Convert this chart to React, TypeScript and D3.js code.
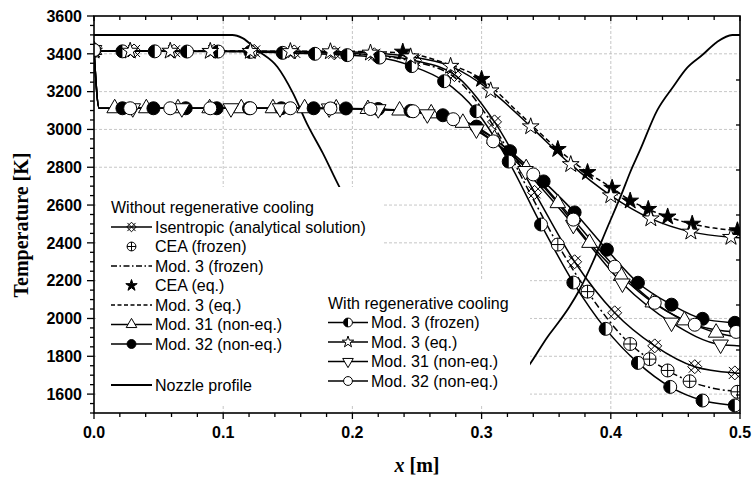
import React, { useEffect, useRef } from "react";
import * as d3 from "d3";

// ---- data ----
// Without regenerative cooling
const isenX = [0, 0.031, 0.062, 0.093, 0.124, 0.155, 0.186, 0.217, 0.248, 0.279, 0.31, 0.341, 0.372, 0.403, 0.434, 0.465, 0.496, 0.5];
const isenT = [3415, 3415, 3414, 3414, 3413, 3410, 3405, 3395, 3365, 3290, 3040, 2667, 2300, 2030, 1855, 1745, 1712, 1710];

const ceaFrozenX = [0.359, 0.382, 0.415, 0.43, 0.444, 0.461, 0.498];
const ceaFrozenT = [2391, 2142, 1865, 1785, 1725, 1668, 1612];

const mod3FrozenX = [0, 0.15, 0.2, 0.25, 0.28, 0.31, 0.34, 0.359, 0.382, 0.415, 0.43, 0.444, 0.461, 0.48, 0.5];
const mod3FrozenT = [3415, 3410, 3400, 3355, 3270, 3010, 2630, 2391, 2142, 1865, 1785, 1725, 1668, 1630, 1612];

const ceaEqX = [0.239, 0.3, 0.359, 0.382, 0.401, 0.415, 0.429, 0.444, 0.463, 0.498];
const ceaEqT = [3410, 3266, 2895, 2773, 2690, 2622, 2578, 2538, 2500, 2465];

const mod3EqX = [0, 0.2, 0.239, 0.27, 0.3, 0.33, 0.359, 0.382, 0.401, 0.415, 0.429, 0.444, 0.463, 0.48, 0.5];
const mod3EqT = [3415, 3413, 3405, 3355, 3266, 3080, 2895, 2773, 2690, 2625, 2578, 2538, 2500, 2478, 2465];

const mod31X = [0, 0.004, 0.016, 0.0405, 0.065, 0.0895, 0.114, 0.1385, 0.163, 0.1875, 0.212, 0.2365, 0.261, 0.2855, 0.31, 0.3345, 0.359, 0.3835, 0.408, 0.4325, 0.457, 0.4815, 0.5];
const mod31T = [3420, 3112, 3112, 3112, 3112, 3112, 3112, 3112, 3112, 3111, 3108, 3100, 3085, 3035, 2950, 2795, 2610, 2400, 2225, 2085, 1990, 1925, 1900];

const mod32X = [0, 0.004, 0.022, 0.046, 0.071, 0.095, 0.12, 0.145, 0.17, 0.195, 0.22, 0.245, 0.27, 0.296, 0.322, 0.348, 0.372, 0.397, 0.421, 0.447, 0.471, 0.496, 0.5];
const mod32T = [3420, 3112, 3112, 3112, 3112, 3112, 3112, 3112, 3112, 3111, 3108, 3098, 3075, 3015, 2885, 2725, 2561, 2364, 2189, 2073, 1998, 1977, 1975];

// With regenerative cooling
const rcFrozenX = [0, 0.022, 0.047, 0.072, 0.096, 0.121, 0.146, 0.171, 0.196, 0.221, 0.246, 0.271, 0.296, 0.321, 0.346, 0.371, 0.396, 0.421, 0.446, 0.471, 0.496, 0.5];
const rcFrozenT = [3415, 3413, 3413, 3412, 3412, 3410, 3405, 3400, 3393, 3380, 3335, 3255, 3096, 2830, 2497, 2190, 1945, 1765, 1638, 1566, 1540, 1537];

const rcEqX = [0, 0.028, 0.059, 0.09, 0.121, 0.152, 0.183, 0.214, 0.245, 0.276, 0.307, 0.338, 0.369, 0.4, 0.431, 0.462, 0.493, 0.5];
const rcEqT = [3415, 3415, 3415, 3414, 3414, 3413, 3412, 3405, 3385, 3335, 3205, 3015, 2815, 2650, 2528, 2458, 2430, 2427];

const rc31X = [0, 0.004, 0.03, 0.068, 0.106, 0.144, 0.182, 0.22, 0.258, 0.296, 0.334, 0.371, 0.409, 0.447, 0.485, 0.5];
const rc31T = [3420, 3112, 3112, 3112, 3112, 3112, 3111, 3107, 3080, 3000, 2780, 2495, 2185, 1978, 1862, 1855];

const rc32X = [0, 0.004, 0.028, 0.059, 0.09, 0.121, 0.152, 0.183, 0.214, 0.247, 0.278, 0.309, 0.34, 0.371, 0.403, 0.434, 0.465, 0.497, 0.5];
const rc32T = [3420, 3112, 3112, 3112, 3112, 3112, 3112, 3111, 3108, 3096, 3054, 2937, 2762, 2523, 2274, 2083, 1967, 1929, 1928];

// Nozzle profile (own right-hand scale, no labels); middle part is hidden behind the legends
const nozzleInX = [0, 0.107, 0.115, 0.126, 0.142, 0.154, 0.165, 0.177, 0.19, 0.197];
const nozzleInR = [8.0, 8.0, 7.93, 7.67, 7.29, 6.71, 6.02, 5.38, 4.62, 4.25];
const nozzleOutX = [0.33, 0.337, 0.351, 0.361, 0.368, 0.376, 0.386, 0.397, 0.4087, 0.415, 0.4226, 0.436, 0.448, 0.459, 0.471, 0.482, 0.494, 0.5];
const nozzleOutR = [0.4, 0.67, 1.29, 1.67, 1.96, 2.35, 2.95, 3.7, 4.49, 4.95, 5.44, 6.33, 6.84, 7.27, 7.56, 7.84, 8.0, 8.0];

const legendWithout = ["Isentropic (analytical solution)", "CEA (frozen)", "Mod. 3 (frozen)", "CEA (eq.)", "Mod. 3 (eq.)", "Mod. 31 (non-eq.)", "Mod. 32 (non-eq.)"];
const legendWith = ["Mod. 3 (frozen)", "Mod. 3 (eq.)", "Mod. 31 (non-eq.)", "Mod. 32 (non-eq.)"];

const SANS = "Arial, 'Liberation Sans', sans-serif";
const SERIF = "'Times New Roman', 'Liberation Serif', serif";

type Marker = "xdiamond" | "oplus" | "starFill" | "starOpen" | "triUp" | "triDown" | "dot" | "circle" | "half" | null;
type Dash = "solid" | "dash" | "dashdot" | null;

const dashArr = (d: Dash) => (d === "dash" ? "5,3" : d === "dashdot" ? "7,3,2,3" : null);

function drawMarker(g: any, kind: Marker, cx: number, cy: number, s = 1) {
  if (!kind) return;
  const sw = 1;
  if (kind === "dot" || kind === "circle") {
    g.append("circle").attr("cx", cx).attr("cy", cy).attr("r", 6.5 * s)
      .attr("fill", kind === "dot" ? "#000" : "#fff").attr("stroke", "#000").attr("stroke-width", sw);
  } else if (kind === "half") {
    const r = 6.5 * s;
    g.append("circle").attr("cx", cx).attr("cy", cy).attr("r", r).attr("fill", "#fff").attr("stroke", "#000").attr("stroke-width", sw);
    g.append("path").attr("d", `M${cx},${cy - r}A${r},${r} 0 0 0 ${cx},${cy + r}Z`).attr("fill", "#000");
  } else if (kind === "oplus") {
    const r = 6.5 * s;
    g.append("circle").attr("cx", cx).attr("cy", cy).attr("r", r).attr("fill", "#fff").attr("stroke", "#000").attr("stroke-width", sw);
    g.append("path").attr("d", `M${cx - r},${cy}H${cx + r}M${cx},${cy - r}V${cy + r}`).attr("stroke", "#000").attr("stroke-width", sw);
  } else if (kind === "xdiamond") {
    const r = 7 * s, c = 6 * s;
    g.append("path").attr("d", `M${cx},${cy - r}L${cx + r},${cy}L${cx},${cy + r}L${cx - r},${cy}Z`)
      .attr("fill", "none").attr("stroke", "#000").attr("stroke-width", sw);
    g.append("path").attr("d", `M${cx - c},${cy - c}L${cx + c},${cy + c}M${cx - c},${cy + c}L${cx + c},${cy - c}`)
      .attr("stroke", "#000").attr("stroke-width", sw);
  } else if (kind === "starFill" || kind === "starOpen") {
    const R = 8.8 * s;
    g.append("path").attr("d", d3.symbol(d3.symbolStar, (R * R) / 0.8908)())
      .attr("transform", `translate(${cx},${cy})`)
      .attr("fill", kind === "starFill" ? "#000" : "#fff").attr("stroke", "#000").attr("stroke-width", sw);
  } else if (kind === "triUp" || kind === "triDown") {
    const hw = 7.8 * s;
    const yy = hw / Math.sqrt(3);
    g.append("path").attr("d", d3.symbol(d3.symbolTriangle, yy * yy * 3 * Math.sqrt(3))())
      .attr("transform", `translate(${cx},${cy})${kind === "triDown" ? " rotate(180)" : ""}`)
      .attr("fill", "#fff").attr("stroke", "#000").attr("stroke-width", sw);
  }
}

const series: { x: number[]; t: number[]; dash: Dash; marker: Marker }[] = [
  { x: isenX, t: isenT, dash: "solid", marker: "xdiamond" },
  { x: mod3FrozenX, t: mod3FrozenT, dash: "dashdot", marker: null },
  { x: ceaFrozenX, t: ceaFrozenT, dash: null, marker: "oplus" },
  { x: mod3EqX, t: mod3EqT, dash: "dash", marker: null },
  { x: ceaEqX, t: ceaEqT, dash: null, marker: "starFill" },
  { x: mod31X, t: mod31T, dash: "solid", marker: "triUp" },
  { x: mod32X, t: mod32T, dash: "solid", marker: "dot" },
  { x: rcFrozenX, t: rcFrozenT, dash: "solid", marker: "half" },
  { x: rcEqX, t: rcEqT, dash: "solid", marker: "starOpen" },
  { x: rc31X, t: rc31T, dash: "solid", marker: "triDown" },
  { x: rc32X, t: rc32T, dash: "solid", marker: "circle" },
];

const legendWithoutStyle: { dash: Dash; marker: Marker }[] = [
  { dash: "solid", marker: "xdiamond" },
  { dash: null, marker: "oplus" },
  { dash: "dashdot", marker: null },
  { dash: null, marker: "starFill" },
  { dash: "dash", marker: null },
  { dash: "solid", marker: "triUp" },
  { dash: "solid", marker: "dot" },
];
const legendWithStyle: { dash: Dash; marker: Marker }[] = [
  { dash: "solid", marker: "half" },
  { dash: "solid", marker: "starOpen" },
  { dash: "solid", marker: "triDown" },
  { dash: "solid", marker: "circle" },
];

export default function App() {
  const svgRef = useRef<SVGSVGElement>(null);

  useEffect(() => {
    const svg = d3.select(svgRef.current);
    svg.selectAll("*").remove();

    const left = 94, right = 740, top = 16, bottom = 413;
    const x = d3.scaleLinear().domain([0, 0.5]).range([left, right]);
    const y = d3.scaleLinear().domain([1500, 3600]).range([bottom, top]);
    const yR = d3.scaleLinear().domain([-0.4, 8.422]).range([bottom, top]);

    svg.append("rect").attr("width", 752).attr("height", 479).attr("fill", "#fff");

    svg.append("defs").append("clipPath").attr("id", "plotclip")
      .append("rect").attr("x", left).attr("y", top).attr("width", right - left).attr("height", bottom - top);

    // grid
    const grid = svg.append("g").attr("stroke", "#b8b8b8").attr("stroke-width", 0.8).attr("stroke-dasharray", "3,2");
    d3.range(0.1, 0.45, 0.1).forEach((v) => {
      grid.append("line").attr("x1", x(v)).attr("x2", x(v)).attr("y1", top).attr("y2", bottom);
    });
    d3.range(1600, 3500, 200).forEach((v) => {
      grid.append("line").attr("x1", left).attr("x2", right).attr("y1", y(v)).attr("y2", y(v));
    });

    const plot = svg.append("g").attr("clip-path", "url(#plotclip)");

    // nozzle profile
    const nozLine = d3.line<[number, number]>().x((d) => x(d[0])).y((d) => yR(d[1])).curve(d3.curveMonotoneX);
    [[nozzleInX, nozzleInR], [nozzleOutX, nozzleOutR]].forEach(([xs, rs]) => {
      plot.append("path").attr("d", nozLine(xs.map((v, i) => [v, rs[i]]) as [number, number][]))
        .attr("fill", "none").attr("stroke", "#000").attr("stroke-width", 1.8);
    });

    // legend backgrounds (opaque, hide grid and nozzle)
    svg.append("rect").attr("x", 96).attr("y", 187).attr("width", 286).attr("height", 217).attr("fill", "#fff");
    svg.append("rect").attr("x", 320).attr("y", 279).attr("width", 210).attr("height", 125).attr("fill", "#fff");

    // series
    const line = d3.line<[number, number]>().x((d) => x(d[0])).y((d) => y(d[1])).curve(d3.curveMonotoneX);
    const lineOnly = (v: number) => v > 0.499 || (v > 0 && v < 0.006);
    series.forEach((s) => {
      const pts = s.x.map((v, i) => [v, s.t[i]] as [number, number]);
      if (s.dash) {
        const p = plot.append("path").attr("d", line(pts)).attr("fill", "none")
          .attr("stroke", "#000").attr("stroke-width", 1.5);
        const da = dashArr(s.dash);
        if (da) p.attr("stroke-dasharray", da);
      }
    });
    series.forEach((s) => {
      if (!s.marker) return;
      const g = plot.append("g");
      s.x.forEach((v, i) => {
        if (s.dash && lineOnly(v)) return;
        drawMarker(g, s.marker, x(v), y(s.t[i]));
      });
    });

    // axes frame
    svg.append("rect").attr("x", left).attr("y", top).attr("width", right - left).attr("height", bottom - top)
      .attr("fill", "none").attr("stroke", "#000").attr("stroke-width", 1.6);

    const ax = svg.append("g").attr("stroke", "#000").attr("stroke-width", 1.3);
    d3.range(0, 0.5001, 0.02).forEach((v) => {
      const major = Math.abs(v * 10 - Math.round(v * 10)) < 1e-6;
      ax.append("line").attr("x1", x(v)).attr("x2", x(v)).attr("y1", bottom).attr("y2", bottom + (major ? 6 : 4));
      ax.append("line").attr("x1", x(v)).attr("x2", x(v)).attr("y1", top).attr("y2", top + (major ? 5 : 4));
    });
    d3.range(1500, 3601, 50).forEach((v) => {
      const major = v % 200 === 0;
      ax.append("line").attr("x1", left).attr("x2", left - (major ? 7 : 4)).attr("y1", y(v)).attr("y2", y(v));
    });
    d3.range(0, 9).forEach((v) => {
      ax.append("line").attr("x1", right).attr("x2", right - 4).attr("y1", yR(v)).attr("y2", yR(v));
    });

    svg.append("g").selectAll("text").data(d3.range(0, 0.5001, 0.1)).join("text")
      .attr("x", (d) => x(d)).attr("y", 438).attr("text-anchor", "middle")
      .attr("font-family", SANS).attr("font-weight", "bold").attr("font-size", 16)
      .text((d) => d3.format(".1f")(d));
    svg.append("g").selectAll("text").data(d3.range(1600, 3601, 200)).join("text")
      .attr("x", 82).attr("y", (d) => y(d)).attr("dy", "0.36em").attr("text-anchor", "end")
      .attr("font-family", SANS).attr("font-weight", "bold").attr("font-size", 16)
      .text((d) => String(d));

    // axis titles
    svg.append("text").attr("transform", "translate(28,225) rotate(-90)").attr("text-anchor", "middle")
      .attr("font-family", SERIF).attr("font-weight", "bold").attr("font-size", 20)
      .text("Temperature [K]");
    const xt = svg.append("text").attr("x", (left + right) / 2).attr("y", 472).attr("text-anchor", "middle")
      .attr("font-family", SERIF).attr("font-weight", "bold").attr("font-size", 20);
    xt.append("tspan").attr("font-style", "italic").text("x");
    xt.append("tspan").text(" [m]");

    // legends
    const drawLegend = (title: string, labels: string[], styles: { dash: Dash; marker: Marker }[], lx: number, ty: number, step: number, sampleW: number) => {
      const g = svg.append("g");
      g.append("text").attr("x", lx).attr("y", ty).attr("dy", "0.36em")
        .attr("font-family", SANS).attr("font-size", 16).text(title);
      labels.forEach((lab, i) => {
        const cy = ty + step * (i + 1);
        const st = styles[i];
        if (st.dash) {
          const l = g.append("line").attr("x1", lx).attr("x2", lx + sampleW).attr("y1", cy).attr("y2", cy)
            .attr("stroke", "#000").attr("stroke-width", 1.5);
          const da = dashArr(st.dash);
          if (da) l.attr("stroke-dasharray", da === "5,3" ? "4,2.5" : "6,2.5,1.5,2.5");
        }
        drawMarker(g, st.marker, lx + sampleW / 2, cy, 0.68);
        g.append("text").attr("x", lx + sampleW + 3).attr("y", cy).attr("dy", "0.36em")
          .attr("font-family", SANS).attr("font-size", 16).text(lab);
      });
      return g;
    };
    drawLegend("Without regenerative cooling", legendWithout, legendWithoutStyle, 111, 207.5, 19.5, 41);
    // nozzle profile entry
    const ng = svg.append("g");
    ng.append("line").attr("x1", 111).attr("x2", 152).attr("y1", 385).attr("y2", 385).attr("stroke", "#000").attr("stroke-width", 1.8);
    ng.append("text").attr("x", 155).attr("y", 385).attr("dy", "0.36em").attr("font-family", SANS).attr("font-size", 16).text("Nozzle profile");

    drawLegend("With regenerative cooling", legendWith, legendWithStyle, 328, 303, 19.5, 40);
  }, []);

  return (
    <svg ref={svgRef} width={752} height={479}
      style={{ position: "absolute", left: 0, top: 0, display: "block" }} />
  );
}
